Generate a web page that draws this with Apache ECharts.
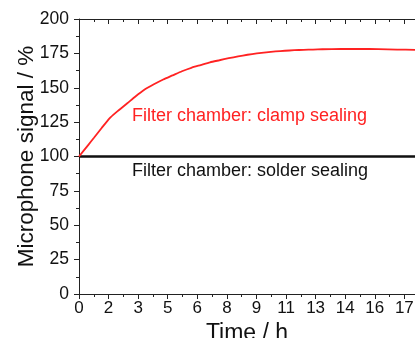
<!DOCTYPE html>
<html>
<head>
<meta charset="utf-8">
<script src="https://cdn.jsdelivr.net/npm/echarts@6/dist/echarts.min.js"></script>
<style>
html,body{margin:0;padding:0;background:#fff;}
#container{width:415px;height:338px;}
</style>
</head>
<body>
<div id="container"></div>
<script>
// time in hours
var clampT = [0, 0.5, 0.8, 1.2, 1.63, 2, 2.58, 3, 3.47, 4, 4.5, 5, 5.5, 6, 6.5, 7, 7.5, 8, 8.5, 9, 9.5, 10, 10.5, 11, 11.5, 12, 12.5, 13, 14, 15, 16, 17, 17.95];
var clampV = [100, 108.5, 113.6, 120.5, 127.8, 132.3, 138.7, 143.5, 148.4, 152.5, 156, 159, 162, 164.5, 166.5, 168.5, 170, 171.5, 172.8, 174, 175, 175.8, 176.4, 176.9, 177.3, 177.6, 177.8, 178, 178.2, 178.2, 178.1, 177.8, 177.5];
var solderT = [0, 2, 4, 6, 8, 10, 12, 14, 16, 17.95];
var solderV = [100, 100, 100, 100, 100, 100, 100, 100, 100, 100];

function pairs(t, v){
	var arr = [];
	for (var i = 0; i < t.length; i++) arr.push([t[i], v[i]]);
	return arr;
}

var font = 'Liberation Sans, Arial, sans-serif';
var myChart = echarts.init(document.getElementById('container'));
var option = {
	animation: false,
	grid: {left: 79, right: 0, top: 19, bottom: 44, outerBoundsMode: 'none', containLabel: false},
	xAxis: [
		{
			type: 'value', min: 0, max: 17.95, interval: 1.58,
			name: 'Time / h', nameLocation: 'middle', nameGap: 28, nameMoveOverlap: false,
			nameTextStyle: {fontSize: 23, color: '#111', fontFamily: font},
			axisLine: {show: true, lineStyle: {color: '#222', width: 1}},
			axisTick: {show: true, inside: false, length: 5, lineStyle: {color: '#222'}},
			minorTick: {show: true, splitNumber: 2, length: 3, lineStyle: {color: '#222'}},
			axisLabel: {
				fontSize: 17, color: '#111', fontFamily: font, margin: 6,
				showMaxLabel: false,
				formatter: function(v){ return Math.round(v); }
			},
			splitLine: {show: false}
		},
		{
			type: 'value', position: 'top', min: 0, max: 17.95, interval: 1.58,
			axisLine: {show: true, lineStyle: {color: '#222', width: 1}},
			axisTick: {show: true, inside: true, length: 5, lineStyle: {color: '#222'}},
			minorTick: {show: true, splitNumber: 2, length: 3, lineStyle: {color: '#222'}},
			axisLabel: {show: false},
			splitLine: {show: false}
		}
	],
	yAxis: {
		type: 'value', min: 0, max: 200, interval: 25,
		name: 'Microphone signal / %', nameLocation: 'middle', nameGap: 41, nameMoveOverlap: false,
		nameTextStyle: {fontSize: 22.5, color: '#111', fontFamily: font},
		axisLine: {show: true, lineStyle: {color: '#222', width: 1}},
		axisTick: {show: true, inside: false, length: 5, lineStyle: {color: '#222'}},
		minorTick: {show: true, splitNumber: 2, length: 3, lineStyle: {color: '#222'}},
		axisLabel: {fontSize: 17.5, color: '#111', fontFamily: font, margin: 10},
		splitLine: {show: false}
	},
	series: [
		{
			name: 'solder', type: 'line', data: pairs(solderT, solderV),
			showSymbol: false, lineStyle: {color: '#111', width: 2.5}
		},
		{
			name: 'clamp', type: 'line', smooth: 0.2, data: pairs(clampT, clampV),
			showSymbol: false, lineStyle: {color: '#f22', width: 1.8}
		}
	],
	graphic: [
		{type: 'text', left: 132, top: 107, style: {text: 'Filter chamber: clamp sealing', fill: '#f22', font: '18px ' + font}},
		{type: 'text', left: 132, top: 162, style: {text: 'Filter chamber: solder sealing', fill: '#111', font: '18px ' + font}}
	]
};
myChart.setOption(option);
</script>
</body>
</html>
